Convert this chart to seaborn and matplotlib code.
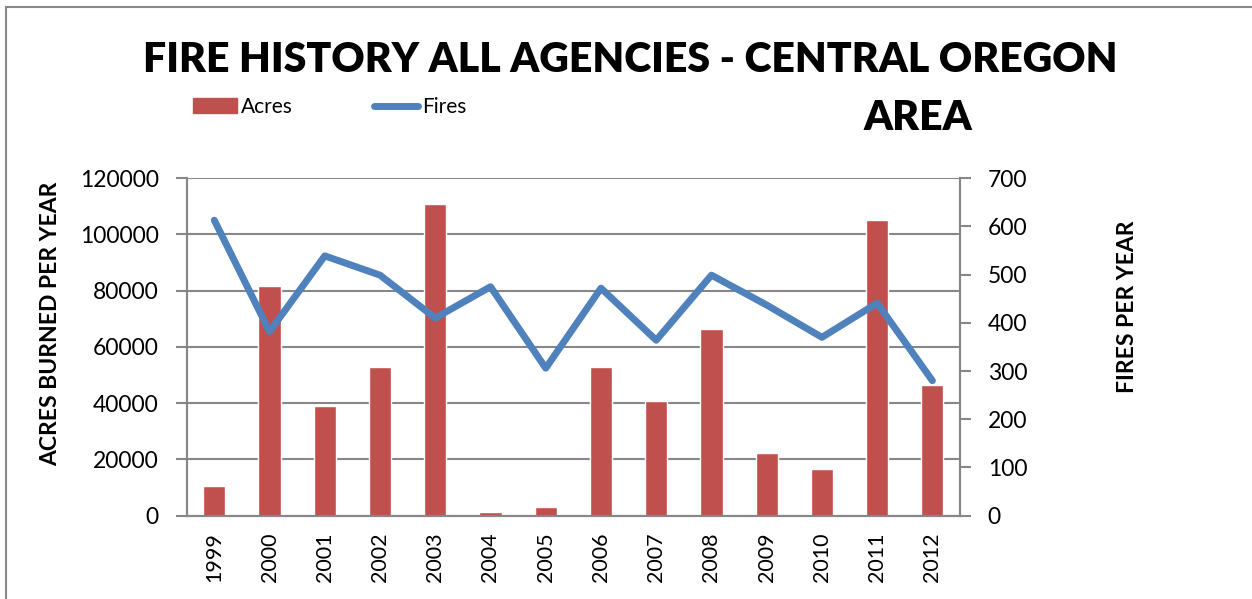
import numpy as np
import pandas as pd
import matplotlib
matplotlib.use("Agg")
import matplotlib.pyplot as plt
import seaborn as sns
from matplotlib.patches import Rectangle

years = ["1999", "2000", "2001", "2002", "2003", "2004", "2005",
         "2006", "2007", "2008", "2009", "2010", "2011", "2012"]
acres = [10500, 81800, 39100, 52800, 110700, 1200, 3100,
         53000, 40800, 66300, 22200, 16500, 105000, 46400]
fires = [613, 382, 539, 499, 410, 475, 306,
         472, 364, 499, 437, 370, 441, 280]
left_ticks = [0, 20000, 40000, 60000, 80000, 100000, 120000]
right_ticks = [0, 100, 200, 300, 400, 500, 600, 700]

sns.set_theme(style="white")
plt.rcParams['font.family'] = ['Lato', 'DejaVu Sans']
plt.rcParams['text.color'] = 'black'
plt.rcParams['axes.labelcolor'] = 'black'
plt.rcParams['xtick.color'] = 'black'
plt.rcParams['ytick.color'] = 'black'

BAR = "#C0504D"
LINE = "#4F81BD"
GRID = "#878787"

df = pd.DataFrame({"year": years, "acres": acres, "fires": fires,
                   "pos": np.arange(len(years))})

fig = plt.figure(figsize=(12.52, 5.99), dpi=100)
ax = fig.add_axes([0.1491, 0.1391, 0.6177, 0.5633])

sns.barplot(data=df, x="year", y="acres", color=BAR, saturation=1,
            width=0.4, ax=ax, zorder=2)
if ax.get_legend() is not None:
    ax.get_legend().remove()
ax.set_ylim(0, 120000)
ax.set_xlim(-0.5, len(years) - 0.5)
ax.set_yticks(left_ticks)
ax.set_yticklabels([str(v) for v in left_ticks], fontsize=16.5)
ax.yaxis.grid(True, color=GRID, linewidth=1.5)
ax.set_axisbelow(True)
ax.set_xticks(np.arange(len(years)))
ax.set_xticklabels(years, rotation=90, fontsize=15.5)
ax.tick_params(axis="x", length=0, pad=12)
ax.set_xticks(np.arange(len(years) + 1) - 0.5, minor=True)
ax.tick_params(axis="x", which="minor", length=7, width=1.5, color=GRID, direction="out")
ax.tick_params(axis="y", length=8, width=1.5, color=GRID, labelcolor="black",
               direction="out", pad=12)
ax.tick_params(axis="x", labelcolor="black")
for s in ["left", "bottom", "right"]:
    ax.spines[s].set_color(GRID)
    ax.spines[s].set_linewidth(1.5)
ax.spines["top"].set_visible(False)
ax.set_xlabel("")
ax.set_ylabel("")

ax2 = ax.twinx()
sns.lineplot(data=df, x="pos", y="fires", color=LINE, linewidth=5,
             ax=ax2, legend=False, zorder=3)
ax2.set_ylim(0, 700)
ax2.set_xlim(-0.5, len(years) - 0.5)
ax2.set_yticks(right_ticks)
ax2.set_yticklabels([str(v) for v in right_ticks], fontsize=16.5)
ax2.tick_params(axis="y", length=8, width=1.5, color=GRID, labelcolor="black",
                direction="out", pad=12)
for s in ["left", "bottom", "right"]:
    ax2.spines[s].set_color(GRID)
    ax2.spines[s].set_linewidth(1.5)
ax2.spines["top"].set_visible(False)
ax2.set_xlabel("")
ax2.set_ylabel("")
ax2.grid(False)

fig.text(51 / 1252, 1 - 324 / 599, "ACRES BURNED PER YEAR", rotation=90,
         fontsize=16.5, fontweight="bold", ha="center", va="center")
fig.text(1128 / 1252, 1 - 307 / 599, "FIRES PER YEAR", rotation=90,
         fontsize=16.5, fontweight="bold", ha="center", va="center")

fig.text(630 / 1252, 1 - 60 / 599, "FIRE HISTORY ALL AGENCIES - CENTRAL OREGON",
         fontsize=29.5, fontweight="heavy", ha="center", va="center")
fig.text(918 / 1252, 1 - 118 / 599, "AREA",
         fontsize=29.5, fontweight="heavy", ha="center", va="center")

bar_handle = Rectangle((0, 0), 1, 1, color=BAR)
line_handle = ax2.get_lines()[0]
fig.legend([bar_handle, line_handle], ["Acres", "Fires"], ncol=2,
           loc="center", bbox_to_anchor=(330 / 1252, 1 - 107 / 599),
           frameon=False, fontsize=15, handlelength=2.1, handletextpad=0.2,
           columnspacing=3.9)

fig.patches.append(Rectangle((6 / 1252, -0.1), 1.2, (1 - 7 / 599) + 0.1,
                             transform=fig.transFigure, fill=False,
                             edgecolor="#888888", linewidth=1.5))

fig.savefig("out.png", dpi=100)
